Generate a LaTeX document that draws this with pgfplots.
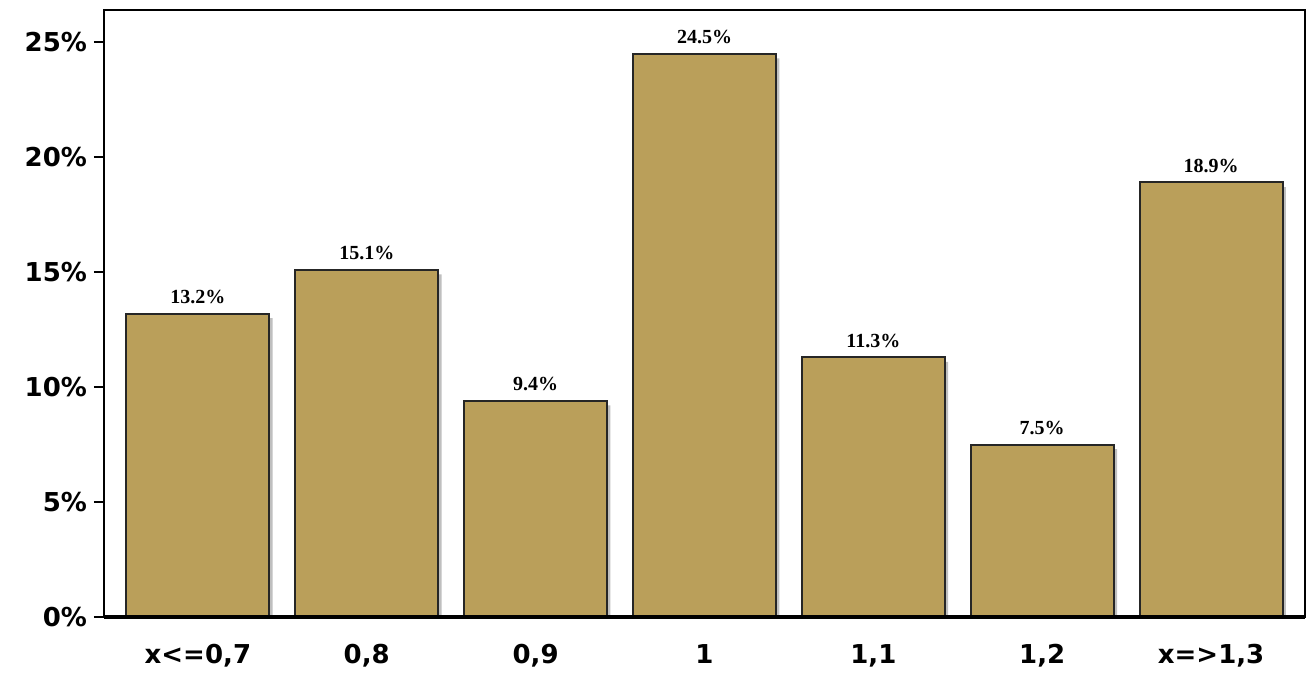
\documentclass[border=0pt]{standalone}
\usepackage{pgfplots}
\pgfplotsset{compat=1.18}
\usepackage{fontspec}
\setmainfont{DejaVu Sans}
\newfontfamily\valfont{Liberation Serif}
\definecolor{barc}{HTML}{BA9F5A}
\begin{document}
\begin{tikzpicture}
\begin{axis}[
  scale only axis, width=600.5pt, height=303.5pt,
  xmin=-0.556, xmax=6.556, ymin=0, ymax=26.4,
  xtick=data, xticklabels={x<=0{,}7,0{,}8,0{,}9,1,1{,}1,1{,}2,x=>1{,}3},
  xticklabel style={font=\fontsize{13}{13}\selectfont\bfseries, yshift=-5pt},
  ytick={0,5,10,15,20,25},
  yticklabels={0\%,5\%,10\%,15\%,20\%,25\%},
  yticklabel style={font=\fontsize{13}{13}\selectfont\bfseries},
  ytick pos=left,
  major x tick style={draw=none},
  tick align=outside, major tick length=5pt,
  y tick style={line width=1pt,black},
  axis line style={line width=0.8pt},
  ybar, bar width=0.846, bar shift=0pt,
  nodes near coords={\valfont\bfseries\pgfmathprintnumber[fixed,precision=1,fixed zerofill,assume math mode=true]{\pgfplotspointmeta}\%},
  nodes near coords style={font=\fontsize{10}{10}\selectfont, yshift=1pt},
  clip=false,
]
\addplot[draw=none, fill=black!25, nodes near coords={}, bar shift=0.02] coordinates {(0,13.0)(1,14.9)(2,9.2)(3,24.3)(4,11.1)(5,7.3)(6,18.7)};
\addplot[fill=barc, draw=black!85, line width=1pt] coordinates {(0,13.2)(1,15.1)(2,9.4)(3,24.5)(4,11.3)(5,7.5)(6,18.9)};
\draw[line width=1.6pt] (axis cs:-0.556,0) -- (axis cs:6.556,0);
\end{axis}
\path (current axis.south west) ++(-52pt,-32.5pt) rectangle ++(653.5pt,0);
\end{tikzpicture}
\end{document}
